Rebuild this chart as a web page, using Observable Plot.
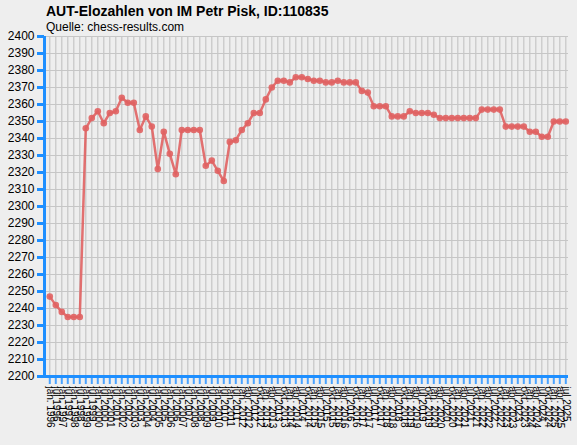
<!DOCTYPE html>
<html><head><meta charset="utf-8">
<script src="https://cdn.jsdelivr.net/npm/d3@7"></script>
<script src="https://cdn.jsdelivr.net/npm/@observablehq/plot@0.6"></script>
<style>
html,body{margin:0;padding:0;background:#eeeeee;width:577px;height:445px;overflow:hidden;font-family:"Liberation Sans",Arial,sans-serif;}
#title{position:absolute;left:46px;top:3px;font-weight:bold;font-size:14px;color:#000;}
#sub{position:absolute;left:46px;top:20px;font-size:12px;color:#000;}
#chart{position:absolute;left:0;top:28px;}
</style></head><body>
<div id="title">AUT-Elozahlen von IM Petr Pisk, ID:110835</div>
<div id="sub">Quelle: chess-results.com</div>
<div id="chart"></div>
<script>
const dates = [
"jan. 1996","jul 1996","jan. 1997","jul 1997","jan. 1998","jul 1998","jan. 1999","jul 1999",
"jan. 2000","jul 2000","jan. 2001","jul 2001","jan. 2002","jul 2002","jan. 2003","jul 2003",
"jan. 2004","jul 2004","jan. 2005","jul 2005","jan. 2006","jul 2006","jan. 2007","jul 2007",
"jan. 2008","jul 2008","jan. 2009","jul 2009","jan. 2010","jul 2010","jan. 2011","jul 2011",
"jan. 2012","apr. 2012","jul 2012","okt. 2012","jan. 2013","apr. 2013","jul 2013","okt. 2013",
"jan. 2014","apr. 2014","jul 2014","okt. 2014","jan. 2015","apr. 2015","jul 2015","okt. 2015",
"jan. 2016","apr. 2016","jul 2016","okt. 2016","jan. 2017","apr. 2017","jul 2017","okt. 2017",
"jan. 2018","apr. 2018","jul 2018","okt. 2018","jan. 2019","apr. 2019","jul 2019","okt. 2019",
"jan. 2020","apr. 2020","jul 2020","okt. 2020","jan. 2021","apr. 2021","jul 2021","okt. 2021",
"jan. 2022","apr. 2022","jul 2022","okt. 2022","jan. 2023","apr. 2023","jul 2023","okt. 2023",
"jan. 2024","apr. 2024","jul 2024","okt. 2024","jan. 2025","apr. 2025","jul 2025"
];
const elo = [
2247,2242,2238,2235,2235,2235,2346,2352,2356,2349,2355,2356,2364,2361,2361,2345,
2353,2347,2322,2344,2331,2319,2345,2345,2345,2345,2324,2327,2321,2315,2338,2339,
2345,2349,2355,2355,2363,2370,2374,2374,2373,2376,2376,2375,2374,2374,2373,2373,
2374,2373,2373,2373,2368,2367,2359,2359,2359,2353,2353,2353,2356,2355,2355,2355,
2354,2352,2352,2352,2352,2352,2352,2352,2357,2357,2357,2357,2347,2347,2347,2347,
2344,2344,2341,2341,2350,2350,2350
];
const yTicks = [2200,2210,2220,2230,2240,2250,2260,2270,2280,2290,2300,2310,2320,2330,2340,2350,2360,2370,2380,2390,2400];

const idx = dates.map((d, i) => i);
const blue = "#1e8fff";
const red = "#e06262";

const chart = Plot.plot({
  width: 577, height: 417,
  marginTop: 8, marginBottom: 69, marginLeft: 44, marginRight: 9,
  style: {background: "transparent", fontFamily: "Liberation Sans, Arial, sans-serif", fontSize: "12px", color: "#000", overflow: "visible"},
  x: {type: "linear", domain: [-0.88, 86.45]},
  y: {domain: [2200, 2400]},
  marks: [
    Plot.gridX(idx, {stroke: "#c6c6c6", strokeOpacity: 1, strokeWidth: 1.2}),
    Plot.gridY(yTicks, {stroke: "#c6c6c6", strokeOpacity: 1, strokeWidth: 1.2}),
    Plot.axisY(yTicks, {tickSize: 7, stroke: blue, strokeWidth: 3, tickPadding: 3, fontSize: 12, label: null, tickFormat: d => String(d)}),
    Plot.axisX(idx, {tickFormat: i => dates[i], tickRotate: 90, tickSize: 8, stroke: "#4aa3ff", strokeWidth: 2, fontSize: 10, tickPadding: 2, label: null}),
    Plot.ruleX([-0.88], {stroke: blue, strokeWidth: 3}),
    Plot.ruleY([2200], {stroke: blue, strokeWidth: 3}),
    Plot.line(idx, {x: i => i, y: i => elo[i], stroke: red, strokeWidth: 2.5, strokeOpacity: 0.9}),
    Plot.dot(idx, {x: i => i, y: i => elo[i], r: 3.3, fill: red, fillOpacity: 0.9, stroke: "none"})
  ]
});
document.getElementById("chart").appendChild(chart);
</script>
</body></html>
